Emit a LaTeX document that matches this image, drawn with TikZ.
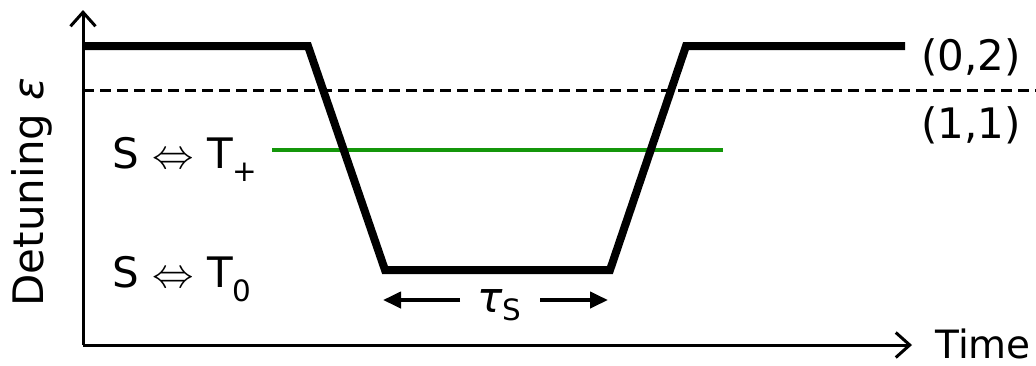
\documentclass[tikz,border=0pt]{standalone}
\usepackage{fontspec}
\setmainfont{DejaVu Sans}
\usepackage{xcolor}
\usetikzlibrary{arrows.meta, positioning}

\definecolor{tripgreen}{RGB}{20,150,10}

\begin{document}
\begin{tikzpicture}[
    x=0.5pt, y=-0.5pt,
    axis/.style={line width=1.5pt, -{Straight Barb[length=7pt, width=12.5pt, line width=1.5pt]}},
    pulse/.style={line width=4pt, line join=miter},
    level/.style={line width=1.5pt, dash pattern=on 5.5pt off 3pt},
    resonance/.style={line width=2pt, color=tripgreen},
    span/.style={line width=2pt, -{Triangle[length=9pt, width=8pt]}},
    lbl/.style={font=\fontsize{21}{25}\selectfont, inner sep=0pt}
  ]
  \useasboundingbox (0,0) rectangle (1036,365);

  % axes
  \coordinate (ytip) at (83,10);
  \coordinate (origin) at (83,345);
  \coordinate (xtip) at (912,345);
  \draw[axis] (origin) -- (ytip);
  \draw[axis] (origin) -- (xtip);

  \node[lbl, font=\fontsize{19.5}{24}\selectfont, anchor=base west] (time) at (935,358) {Time};
  \node[lbl, anchor=base, rotate=90] (detuning) at (43,192) {Detuning \textit{ε}};

  % charge states
  \draw[level] (83,90) -- (1036,90);
  \node[lbl, anchor=base west] (s02) at (921,70) {(0,2)};
  \node[lbl, anchor=base west] (s11) at (921,138) {(1,1)};

  % S-T+ anticrossing
  \draw[resonance] (272,150) -- (723,150);
  \node[lbl, anchor=base west] (stp) at (112,168) {S $\Leftrightarrow$ T\raisebox{-0.3ex}{\textsubscript{+}}};
  \node[lbl, anchor=base west] (st0) at (112,287) {S $\Leftrightarrow$ T\raisebox{-0.3ex}{\textsubscript{0}}};

  % detuning pulse
  \draw[pulse] (83,46) -- (308,46) -- (385,270) -- (610,270) -- (686,46) -- (905,46);

  % separation time
  \node[lbl] (tau) at (500,305) {\textit{τ}\textsubscript{S}};
  \coordinate (tauL) at (383,300);
  \coordinate (tauR) at (608,300);
  \draw[span] (460,300) -- (tauL);
  \draw[span] (540,300) -- (tauR);
\end{tikzpicture}
\end{document}
